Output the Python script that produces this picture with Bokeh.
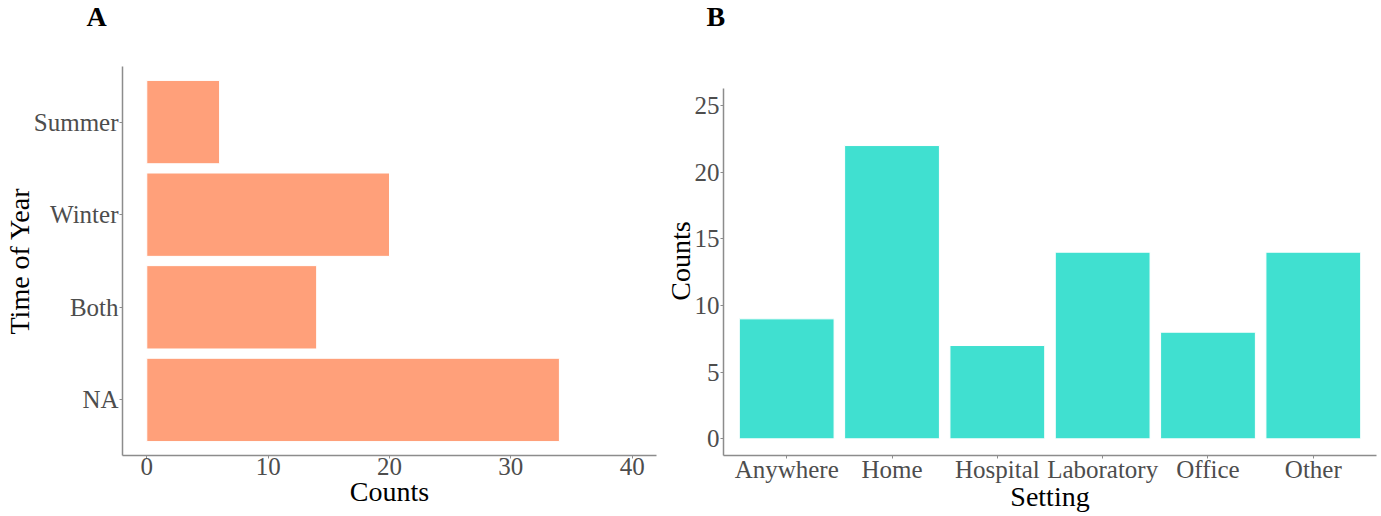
from bokeh.plotting import figure
from bokeh.models import Range1d, FactorRange, FixedTicker, Title
from bokeh.layouts import row
from bokeh.embed import file_html
from bokeh.resources import INLINE

# Panel A data
seasons = ["NA", "Both", "Winter", "Summer"]
season_counts = [34, 14, 20, 6]
a_ticks = [0, 10, 20, 30, 40]

# Panel B data
settings = ["Anywhere", "Home", "Hospital", "Laboratory", "Office", "Other"]
setting_counts = [9, 22, 7, 14, 8, 14]
b_ticks = [0, 5, 10, 15, 20, 25]

FONT = "Liberation Serif"
TICK_COLOR = "#4d4d4d"
AXIS_COLOR = "#8c8c8c"


def style(p):
    for ax in (p.xaxis, p.yaxis):
        ax.axis_line_color = AXIS_COLOR
        ax.axis_line_width = 1.5
        ax.major_tick_line_color = AXIS_COLOR
        ax.major_tick_in = 0
        ax.major_tick_out = 3
        ax.minor_tick_line_color = None
        ax.major_label_text_font = FONT
        ax.major_label_text_font_size = "25px"
        ax.major_label_text_color = TICK_COLOR
        ax.axis_label_text_font = FONT
        ax.axis_label_text_font_size = "28px"
        ax.axis_label_text_font_style = "normal"
        ax.axis_label_text_color = "black"
        ax.major_label_standoff = 1
        ax.axis_label_standoff = -4
    p.xaxis.major_label_standoff = -3
    p.xaxis.axis_label_standoff = -5
    p.xgrid.grid_line_color = None
    p.ygrid.grid_line_color = None
    p.outline_line_color = None
    p.background_fill_color = "white"
    p.border_fill_color = "white"


def panel_letter(p, text, offset):
    # spacer slot next to the frame, so that the letter sits at the top of the canvas
    p.add_layout(Title(text=" ", text_font=FONT, text_font_size="28px", standoff=0), "above")
    p.add_layout(Title(text=text, text_font=FONT, text_font_size="28px",
                       text_font_style="bold", text_color="black",
                       align="left", vertical_align="top", offset=offset, standoff=0),
                 "above")


COMMON = dict(frame_height=389, min_border_top=66, min_border_bottom=50,
              output_backend="svg", toolbar_location=None)

# ---------- Panel A ----------
pa = figure(y_range=FactorRange(*seasons), x_range=Range1d(-2, 42),
            frame_width=534, min_border_left=113, min_border_right=5, **COMMON)
pa.hbar(y=seasons, right=season_counts, left=0, height=0.9,
        fill_color="#FFA07A", line_color="white", line_width=1)
style(pa)
pa.xaxis.ticker = FixedTicker(ticks=a_ticks)
pa.xaxis.axis_label = "Counts"
pa.xaxis.major_label_standoff = -1
pa.xaxis.axis_label_standoff = -2
pa.yaxis.axis_label = "Time of Year"
pa.y_range.range_padding = 0.1
pa.y_range.range_padding_units = "absolute"
pa.y_range.factor_padding = 0.0
panel_letter(pa, "A", -36)

# ---------- Panel B ----------
pb = figure(x_range=FactorRange(*settings), y_range=Range1d(-1.25, 27.93),
            frame_width=653, min_border_left=62, min_border_right=3, **COMMON)
pb.vbar(x=settings, top=setting_counts, bottom=0, width=0.9,
        fill_color="#40E0D0", line_color="white", line_width=1)
style(pb)
pb.yaxis.ticker = FixedTicker(ticks=b_ticks)
pb.yaxis.bounds = (-1.25, 26.25)
pb.xaxis.axis_label = "Setting"
pb.yaxis.axis_label = "Counts"
pb.x_range.range_padding = 0.1
pb.x_range.range_padding_units = "absolute"
panel_letter(pb, "B", -17)

layout = row(pa, pb)
open("out.html", "w").write(file_html(layout, INLINE))
